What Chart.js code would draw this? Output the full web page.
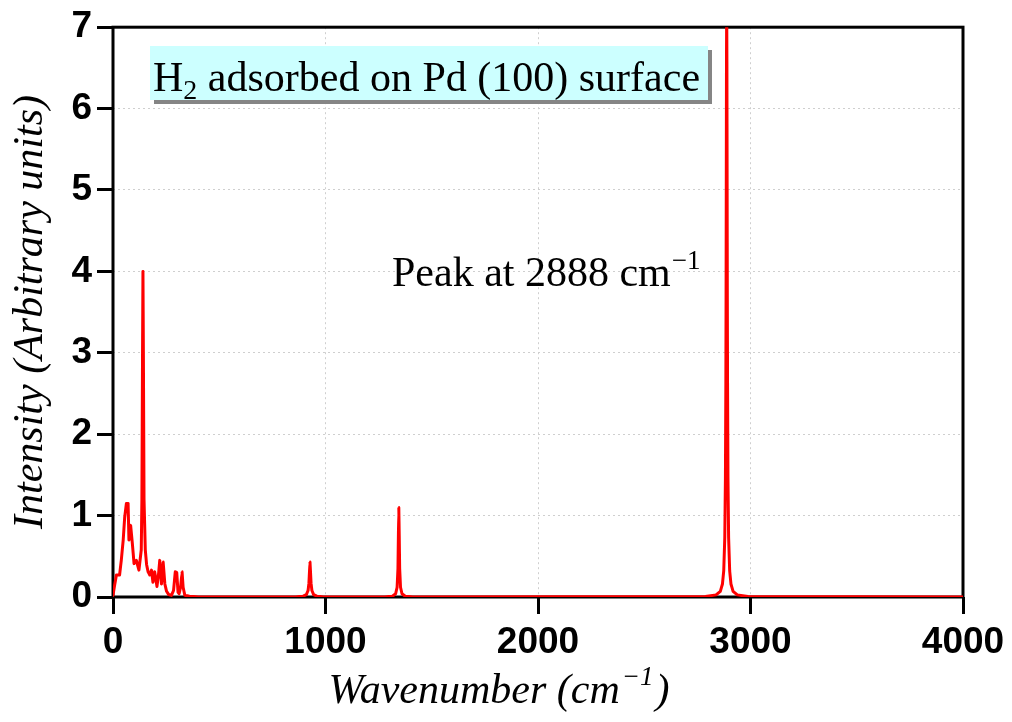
<!DOCTYPE html>
<html>
<head>
<meta charset="utf-8">
<script src="https://cdn.jsdelivr.net/npm/chart.js@4.4.1/dist/chart.umd.min.js"></script>
<style>
  body { margin: 0; background: #fff; }
  #wrap { width: 1012px; height: 722px; }
</style>
</head>
<body>
<div id="wrap"><canvas id="spectrumChart" width="1012" height="722"></canvas></div>
<script>
/* DATA */
var wavenumber = [
	0, 8, 16, 31, 39, 48, 55, 63, 71, 75, 83, 91, 99, 110, 122, 133, 136, 139, 141, 143, 146, 152,
	158, 165, 173, 181, 188, 196, 207, 215, 220, 228, 236, 244, 252, 262, 275, 285, 293, 300,
	306, 311, 318, 325, 330, 338, 360, 400,
	860, 895, 910, 918, 922, 925, 927, 929, 932, 936, 944, 959, 990,
	1280, 1315, 1330, 1337, 1341, 1343, 1345, 1347, 1349, 1353, 1360, 1375, 1410,
	2788, 2838, 2858, 2868, 2874, 2879, 2882, 2884, 2885, 2886, 2887, 2888, 2889, 2890, 2891, 2892, 2894,
	2897, 2902, 2908, 2918, 2938, 2988,
	4000
];
var intensity = [
	0.02, 0.15, 0.27, 0.27, 0.45, 0.70, 0.98, 1.15, 1.15, 0.70, 0.88, 0.66, 0.41, 0.45, 0.33, 0.58, 1.20, 3.00, 4.00, 3.00, 1.20, 0.58,
	0.40, 0.31, 0.27, 0.33, 0.18, 0.31, 0.13, 0.30, 0.45, 0.16, 0.43, 0.16, 0.07, 0.03, 0.02, 0.08, 0.31, 0.30,
	0.06, 0.04, 0.12, 0.31, 0.12, 0.02, 0.01, 0.00,
	0.00, 0.01, 0.03, 0.08, 0.17, 0.33, 0.43, 0.33, 0.17, 0.08, 0.03, 0.01, 0.00,
	0.00, 0.01, 0.04, 0.12, 0.35, 0.75, 1.10, 0.75, 0.35, 0.12, 0.04, 0.01, 0.00,
	0.007, 0.026, 0.07, 0.16, 0.32, 0.73, 1.46, 2.63, 3.65, 5.05, 6.57, 7.30, 6.57, 5.05, 3.65, 2.63, 1.46,
	0.73, 0.32, 0.16, 0.07, 0.026, 0.007,
	0.00
];
var xTicks = [0, 1000, 2000, 3000, 4000];
var yTicks = [0, 1, 2, 3, 4, 5, 6, 7];

var boxTitle = "H2 adsorbed on Pd (100) surface";
var peakNote = "Peak at 2888 cm";

var points = [];
for (var i = 0; i < wavenumber.length; i++) {
	points.push({ x: wavenumber[i], y: intensity[i] });
}

var serif = "'Liberation Serif', 'Times New Roman', serif";

/* frame, annotations and axis titles */
var decor = {
	id: 'decor',
	beforeDatasetsDraw: function(chart) {
		var ctx = chart.ctx, a = chart.chartArea;
		ctx.save();
		ctx.strokeStyle = '#000';
		ctx.lineWidth = 3;
		ctx.strokeRect(a.left, a.top, a.right - a.left, a.bottom - a.top);
		ctx.restore();
	},
	afterDraw: function(chart) {
		var ctx = chart.ctx;
		ctx.save();
		ctx.textBaseline = 'alphabetic';

		// boxed label
		ctx.fillStyle = '#858585';
		ctx.fillRect(154, 50, 558, 54);
		ctx.fillStyle = '#ccffff';
		ctx.fillRect(150, 46, 558, 54);
		ctx.fillStyle = '#000';
		var x = 153;
		ctx.font = "42px " + serif;
		ctx.fillText("H", x, 91);
		x += ctx.measureText("H").width;
		ctx.font = "28px " + serif;
		ctx.fillText("2", x, 99);
		x += ctx.measureText("2").width;
		ctx.font = "42px " + serif;
		ctx.fillText(boxTitle.slice(2), x, 91);

		// peak note
		ctx.font = "42px " + serif;
		ctx.fillText(peakNote, 392, 286);
		x = 392 + ctx.measureText(peakNote).width;
		ctx.font = "27px " + serif;
		ctx.fillText("\u22121", x + 1, 269);

		// x title
		ctx.font = "italic 42px " + serif;
		var p1 = "Wavenumber (cm", p3 = ")";
		var w1 = ctx.measureText(p1).width, w3 = ctx.measureText(p3).width;
		ctx.font = "italic 27px " + serif;
		var w2 = ctx.measureText("\u22121").width;
		x = 499 - (w1 + w2 + w3 + 4) / 2;
		ctx.font = "italic 42px " + serif;
		ctx.fillText(p1, x, 703);
		ctx.font = "italic 27px " + serif;
		ctx.fillText("\u22121", x + w1 + 2, 685);
		ctx.font = "italic 42px " + serif;
		ctx.fillText(p3, x + w1 + w2 + 4, 703);

		// y title
		ctx.translate(42, 312);
		ctx.rotate(-Math.PI / 2);
		ctx.textAlign = 'center';
		ctx.font = "italic 42px " + serif;
		ctx.fillText("Intensity (Arbitrary units)", 0, 0);
		ctx.restore();
	}
};

function plainLabel(value) {
	return String(value);
}

/* LINE CHART */
var ctxLine = document.getElementById("spectrumChart").getContext("2d");
var spectrumChart = new Chart(ctxLine, {
	type: 'line',
	data: {
		datasets: [{
			data: points,
			borderColor: '#ff0000',
			borderWidth: 3,
			borderJoinStyle: 'round',
			borderCapStyle: 'round',
			pointRadius: 0,
			tension: 0.001, // tiny tension keeps Chart.js off its pixel-merging fast path
			fill: false
		}]
	},
	options: {
		responsive: false,
		animation: false,
		layout: { padding: { top: 25, right: 49, left: 0, bottom: 0 } },
		plugins: {
			legend: { display: false },
			tooltip: { enabled: false }
		},
		scales: {
			x: {
				type: 'linear',
				min: 0,
				max: 4000,
				afterBuildTicks: function(scale) {
					scale.ticks = xTicks.map(function(v) { return { value: v }; });
				},
				afterFit: function(scale) { scale.height = 125; },
				grid: {
					color: '#cfcfcf',
					lineWidth: 1,
					tickLength: 17,
					tickColor: '#000',
					tickWidth: 3,
					tickBorderDash: []
				},
				border: { display: false, dash: [2, 3] },
				ticks: {
					color: '#000',
					padding: 7,
					maxRotation: 0,
					callback: plainLabel,
					font: { family: "'Liberation Sans', Arial, sans-serif", size: 37, weight: 'bold' }
				}
			},
			y: {
				min: 0,
				max: 7,
				afterBuildTicks: function(scale) {
					scale.ticks = yTicks.map(function(v) { return { value: v }; });
				},
				afterFit: function(scale) { scale.width = 113; },
				grid: {
					color: '#cfcfcf',
					lineWidth: 1,
					tickLength: 16,
					tickColor: '#000',
					tickWidth: 3,
					tickBorderDash: []
				},
				border: { display: false, dash: [2, 3] },
				ticks: {
					color: '#000',
					padding: 5,
					callback: plainLabel,
					font: { family: "'Liberation Sans', Arial, sans-serif", size: 37, weight: 'bold' }
				}
			}
		}
	},
	plugins: [decor]
});
</script>
</body>
</html>
